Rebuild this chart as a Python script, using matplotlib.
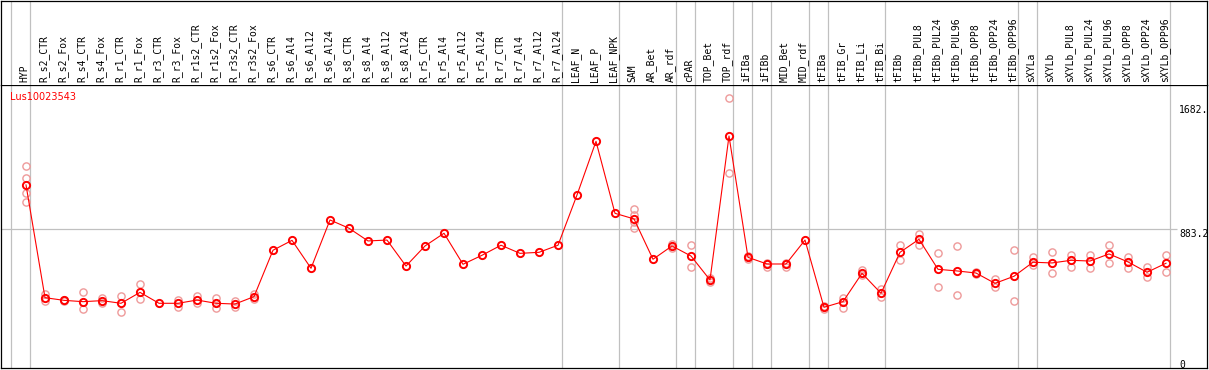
import matplotlib
matplotlib.use("Agg")
import matplotlib.pyplot as plt

# sample names, one column each
names = ["HYP", "R_s2_CTR", "R_s2_Fox", "R_s4_CTR", "R_s4_Fox", "R_r1_CTR", "R_r1_Fox",
         "R_r3_CTR", "R_r3_Fox", "R_r1s2_CTR", "R_r1s2_Fox", "R_r3s2_CTR", "R_r3s2_Fox",
         "R_s6_CTR", "R_s6_Al4", "R_s6_Al12", "R_s6_Al24", "R_s8_CTR", "R_s8_Al4",
         "R_s8_Al12", "R_s8_Al24", "R_r5_CTR", "R_r5_Al4", "R_r5_Al12", "R_r5_Al24",
         "R_r7_CTR", "R_r7_Al4", "R_r7_Al12", "R_r7_Al24", "LEAF_N", "LEAF_P", "LEAF_NPK",
         "SAM", "AR_Bet", "AR_rdf", "cPAR", "TOP_Bet", "TOP_rdf", "iFIBa", "iFIBb",
         "MID_Bet", "MID_rdf", "tFIBa", "tFIB_Gr", "tFIB_Li", "tFIB_Bi", "tFIBb",
         "tFIBb_PUL8", "tFIBb_PUL24", "tFIBb_PUL96", "tFIBb_OPP8", "tFIBb_OPP24",
         "tFIBb_OPP96", "sXYLa", "sXYLb", "sXYLb_PUL8", "sXYLb_PUL24", "sXYLb_PUL96",
         "sXYLb_OPP8", "sXYLb_OPP24", "sXYLb_OPP96"]

# mean expression per sample
means = [1178, 415, 397, 388, 395, 377, 451, 377, 377, 399, 377, 372, 422,
         736, 803, 614, 941, 885, 799, 805, 629, 765, 851, 641, 702, 770, 715, 722, 770,
         1110, 1473, 986, 948, 675, 765, 697, 535, 1509, 688, 643, 643, 805,
         350, 388, 580, 445, 722, 810, 607, 596, 582, 512, 560,
         655, 650, 668, 663, 711, 657, 587, 648]

# replicate values per sample (empty = single value)
reps = [[1306, 1223, 1121, 1060], [438, 392], [399, 395], [451, 336], [411, 381],
        [426, 320], [508, 404], [], [399, 354], [428, 381], [415, 347], [395, 354],
        [440, 404],
        [], [], [], [], [], [], [], [], [], [], [], [], [], [], [], [], [], [], [],
        [1015, 975, 925, 885], [], [778, 753], [772, 621], [519, 546], [1764, 1257],
        [697, 675], [652, 621], [652, 621], [], [361, 336], [411, 343], [602, 569],
        [472, 422], [772, 673], [846, 772], [715, 489], [765, 431], [591, 575],
        [541, 485], [738, 391], [692, 636], [722, 580], [704, 625], [704, 614],
        [772, 647], [688, 618], [621, 553], [704, 591]]

# index of the column after which a group separator is drawn
group_ends = [-1, 0, 28, 31, 34, 35, 37, 38, 39, 41, 42, 45, 52, 53, 60]

gene = "Lus10023543"
scale_max = 1766.4
scale_labels = ["1682.", "883.2", "0"]
scale_values = [1682, 883.2, 0]

# pixel layout
W, H = 1209, 370
X0, DX = 26, 19
Y_ZERO, Y_TOP = 359, 98
LEFT, RIGHT, HEAD, BOTTOM = 1, 1207, 85, 368


def px_x(px):
    return (px - X0) / DX


def px_v(py):
    return (Y_ZERO - py) * scale_max / (Y_ZERO - Y_TOP)


fig = plt.figure(figsize=(W / 100, H / 100), dpi=100)
fig.patch.set_facecolor("white")

ax = fig.add_axes([LEFT / W, (H - BOTTOM) / H, (RIGHT - LEFT) / W, (BOTTOM - HEAD) / H])
hd = fig.add_axes([LEFT / W, (H - HEAD) / H, (RIGHT - LEFT) / W, (HEAD - 0.5) / H])

xlim = (px_x(LEFT), px_x(RIGHT))
for a in (ax, hd):
    a.set_xlim(xlim)
    a.set_xticks([])
    a.set_yticks([])
    for s in a.spines.values():
        s.set_color("black")
        s.set_linewidth(0.9)
    for g in group_ends:
        a.axvline(g + 4 / DX, color="#c0c0c0", lw=0.9, zorder=0)
hd.spines["bottom"].set_visible(False)
ax.set_ylim(px_v(BOTTOM), px_v(HEAD))
hd.set_ylim(HEAD, 0)

# header labels
for i, n in enumerate(names):
    hd.text(i - 0.08, 82, n, rotation=90, ha="center", va="bottom",
            family="DejaVu Sans Mono", fontsize=7, color="black")

# middle reference line
ax.hlines(scale_max / 2, xlim[0], px_x(1177), color="#c0c0c0", lw=0.9, zorder=0)

# replicates
rx = [i for i, r in enumerate(reps) for _ in r]
ry = [v for r in reps for v in r]
ax.plot(rx, ry, "o", ms=5.2, mfc="none", mec="#ee9a9a", mew=1.0, zorder=2)

# mean line
xs = list(range(len(means)))
ax.plot(xs, means, "-", color="red", lw=0.8, zorder=3)
ax.plot(xs, means, "o", ms=5.2, mfc="none", mec="red", mew=1.4, zorder=4)

# scale labels on the right
for lab, val in zip(scale_labels, scale_values):
    va = "center" if lab == scale_labels[0] else "top"
    ax.text(px_x(1179), val - (0 if va == "center" else 4), lab, ha="left", va=va,
            family="DejaVu Sans Mono", fontsize=7, color="black")

ax.text(px_x(10), px_v(97), gene, ha="left", va="center", fontsize=7, color="red")

fig.savefig("out.png", dpi=100)
